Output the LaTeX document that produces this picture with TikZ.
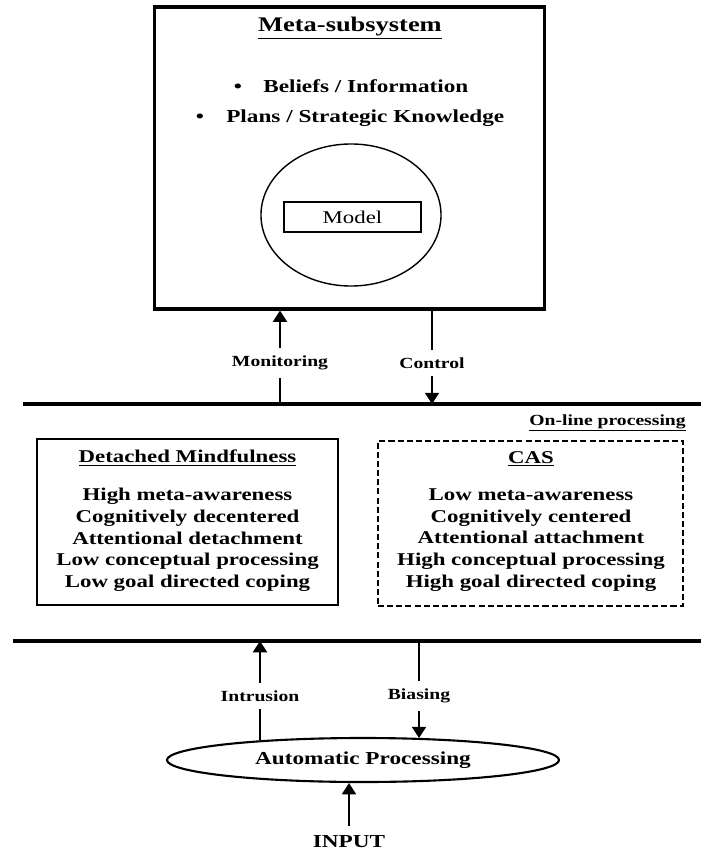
\documentclass[tikz,border=0pt]{standalone}
\usepackage{fontspec}
\setmainfont{Liberation Serif}[FakeStretch=1.27]
\usepackage{tikz}
\usetikzlibrary{shapes.geometric, arrows.meta}
\usetikzlibrary{positioning}
\tikzstyle{metabox} = [rectangle, draw=black, line width=2.2pt, minimum width=9.725cm, minimum height=7.55cm]
\tikzstyle{modebox} = [rectangle, draw=black, line width=1.4pt, minimum width=7.525cm, minimum height=4.15cm]
\tikzstyle{casbox} = [modebox, dash pattern=on 4.3pt off 2.2pt, minimum width=7.625cm, minimum height=4.125cm]
\tikzstyle{layer} = [line width=2.2pt]
\tikzstyle{arrow} = [line width=1.3pt, -{Triangle[length=8pt,width=10pt]}]
\tikzstyle{link} = [line width=1.3pt, -]
\tikzstyle{flowLabel} = [font=\fontsize{11}{13}\selectfont\bfseries, inner xsep=2pt, inner ysep=5.5pt]
\tikzstyle{listText} = [font=\fontsize{12.8}{15.4}\selectfont\bfseries, align=center]
\tikzstyle{bulletText} = [font=\fontsize{13}{15}\selectfont\bfseries, inner sep=0pt]
\begin{document}
\begin{tikzpicture}[x=0.025cm, y=-0.025cm]
\useasboundingbox (0,0) rectangle (701,852);
% meta level
\node (meta) [metabox] at (349.5,158) {};
\node (metaTitle) [font=\fontsize{14.8}{17}\selectfont\bfseries] at (350,28) {\underline{Meta-subsystem}};
\node (beliefs) [bulletText, anchor=west] at (263,86) {Beliefs / Information};
\node (plans) [bulletText, anchor=west] at (226,118) {Plans / Strategic Knowledge};
\coordinate (dotcol1) at (238,0);
\coordinate (dotcol2) at (200,0);
\node (dot1) [bulletText, anchor=base] at (beliefs.base -| dotcol1) {\textbullet};
\node (dot2) [bulletText, anchor=base] at (plans.base -| dotcol2) {\textbullet};
\node (self) [ellipse, draw, line width=1pt, minimum width=4.5cm, minimum height=3.55cm] at (351,215) {};
\node (model) [rectangle, draw, line width=1pt, minimum width=3.425cm, minimum height=0.75cm, font=\fontsize{12.8}{15}\selectfont] at (352.5,217) {Model};

% the two layer lines
\coordinate (upperW) at (23,404);
\coordinate (upperE) at (701,404);
\coordinate (lowerW) at (13,641);
\coordinate (lowerE) at (701,641);
\draw (upperW) [layer] -- (upperE);
\draw (lowerW) [layer] -- (lowerE);

% monitoring / control
\node (monitoring) [flowLabel] at (280,363) {Monitoring};
\node (control) [flowLabel] at (432,363) {Control};
\draw (monitoring.south |- upperW) [link] -- (monitoring.south);
\draw (monitoring.north) [arrow] -- (monitoring.north |- meta.south);
\draw (control.north |- meta.south) [link] -- (control.north);
\draw (control.south) [arrow] -- (control.south |- upperW);

% on-line processing
\node (online) [font=\fontsize{11}{13}\selectfont\bfseries, anchor=east, inner sep=0pt] at (686,423) {\underline{On-line processing}};
\node (dm) [modebox] at (187.5,522) {};
\node (dmTitle) [listText] at (187.5,458) {\underline{Detached Mindfulness}};
\node (dmList) [listText] at (187.5,540) {High meta-awareness\\Cognitively decentered\\Attentional detachment\\Low conceptual processing\\Low goal directed coping};
\node (cas) [casbox] at (530.5,523.5) {};
\node (casTitle) [listText] at (531,459) {\underline{CAS}};
\node (casList) [listText] at (531,540) {Low meta-awareness\\Cognitively centered\\Attentional attachment\\High conceptual processing\\High goal directed coping};

% automatic level
\node (auto) [ellipse, draw, line width=1.5pt, minimum width=9.8cm, minimum height=1.1cm, font=\fontsize{13}{15}\selectfont\bfseries] at (363,760) {Automatic Processing};
\node (intrusion) [flowLabel] at (260,696) {Intrusion};
\node (biasing) [flowLabel] at (419,696) {Biasing};
\draw (intrusion.south) [link] -- (intrusion.south |- auto.169.7);
\draw (intrusion.north) [arrow] -- (intrusion.north |- lowerW);
\draw (biasing.north |- lowerW) [link] -- (biasing.north);
\draw (biasing.south) [arrow] -- (biasing.south |- auto.20.6);
\node (input) [flowLabel, font=\fontsize{13}{15}\selectfont\bfseries, inner ysep=7pt] at (349,842) {INPUT};
\draw (input.north) [arrow] -- (input.north |- auto.south);
\end{tikzpicture}
\end{document}
